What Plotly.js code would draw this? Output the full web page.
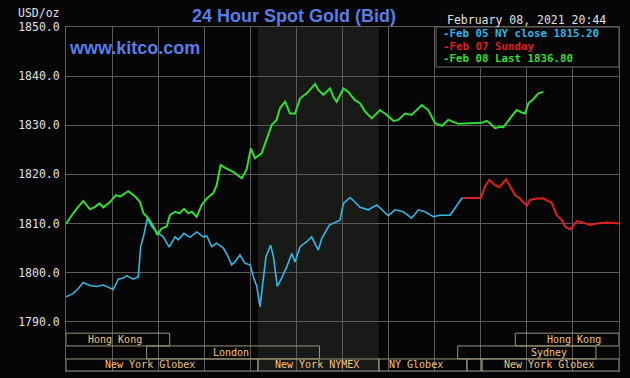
<!DOCTYPE html>
<html>
<head>
<meta charset="utf-8">
<script src="https://cdn.plot.ly/plotly-3.0.1.min.js"></script>
<style>html,body{margin:0;padding:0;background:#050505;}#chart{width:630px;height:378px;}</style>
</head>
<body>
<div id="chart"></div>
<script>
// Hours of the trading day (0-24) and prices USD/oz
const feb05Hours = [0,0.32,0.53,0.75,1.04,1.33,1.62,2.05,2.27,2.49,2.63,2.92,3.14,3.24,3.36,3.53,3.72,3.94,4.22,4.48,4.73,4.87,5.12,5.38,5.67,5.96,6.11,6.32,6.54,6.83,6.97,7.19,7.33,7.55,7.77,7.99,8.13,8.28,8.42,8.56,8.68,8.88,9.0,9.17,9.36,9.58,9.8,9.94,10.16,10.45,10.66,10.95,11.1,11.43,11.75,11.89,12.04,12.33,12.54,12.76,13.12,13.49,13.99,14.28,14.64,15.0,15.29,15.58,15.94,16.23,16.67,16.88,17.17,17.25];
const feb05Price = [1795.1,1795.8,1796.8,1798.0,1797.4,1797.2,1797.5,1796.6,1798.7,1798.9,1799.4,1798.7,1799.2,1805.3,1807.3,1811.1,1809.4,1808.3,1807.3,1805.2,1807.3,1806.7,1808.0,1807.2,1808.3,1807.3,1807.5,1805.3,1806.0,1805.0,1803.9,1801.6,1802.2,1803.6,1801.9,1801.6,1799.2,1797.2,1793.1,1799.2,1803.3,1805.6,1803.3,1797.2,1798.9,1801.2,1803.9,1802.2,1805.3,1806.3,1807.3,1804.6,1807.0,1809.7,1810.4,1810.7,1814.1,1815.3,1814.4,1813.3,1812.8,1813.8,1811.6,1812.8,1812.4,1811.1,1812.8,1812.4,1811.4,1811.7,1811.7,1813.1,1815.1,1815.2];

const feb07Hours = [17.25,18.0,18.19,18.37,18.62,18.81,19.1,19.27,19.49,19.7,20.0,20.14,20.43,20.72,21.08,21.3,21.51,21.66,21.88,22.17,22.45,22.74,23.03,23.47,24.0];
const feb07Price = [1815.2,1815.2,1817.6,1818.9,1817.8,1817.4,1819.0,1817.6,1815.8,1815.1,1813.6,1814.8,1815.1,1815.1,1814.2,1811.7,1810.7,1809.4,1808.8,1810.5,1810.2,1809.7,1810.0,1810.2,1810.0];

const feb08Hours = [0,0.25,0.53,0.75,1.04,1.26,1.45,1.62,1.91,2.17,2.34,2.7,3.0,3.21,3.36,3.57,3.79,3.96,4.15,4.37,4.51,4.73,4.92,5.12,5.31,5.46,5.67,5.89,6.11,6.39,6.54,6.71,6.97,7.26,7.63,7.84,8.02,8.2,8.49,8.71,8.93,9.14,9.29,9.51,9.72,9.94,10.16,10.45,10.81,10.95,11.17,11.46,11.6,11.75,12.04,12.25,12.54,12.76,12.98,13.27,13.63,13.92,14.21,14.42,14.71,15.0,15.44,15.72,16.02,16.31,16.59,16.81,17.03,18.04,18.26,18.4,18.62,18.84,18.98,19.27,19.56,19.78,19.92,20.07,20.28,20.5,20.72];
const feb08Price = [1809.9,1811.7,1813.4,1814.6,1812.9,1813.4,1814.1,1813.3,1814.4,1815.8,1815.5,1816.6,1815.5,1814.4,1812.1,1811.1,1809.4,1807.7,1809.0,1809.4,1811.7,1812.4,1812.1,1813.0,1812.1,1812.4,1811.4,1813.8,1815.1,1816.2,1817.8,1821.9,1821.2,1820.5,1819.2,1821.0,1825.3,1823.3,1824.3,1827.0,1830.1,1831.1,1833.5,1834.8,1832.4,1832.4,1835.5,1836.5,1838.4,1837.2,1836.2,1837.5,1835.8,1834.8,1837.5,1836.8,1835.1,1834.5,1832.8,1831.4,1833.1,1832.1,1830.9,1831.1,1832.4,1832.1,1834.1,1833.1,1830.4,1829.9,1831.1,1830.7,1830.3,1830.5,1830.9,1830.4,1829.4,1829.7,1829.6,1831.4,1833.1,1832.6,1832.4,1834.5,1835.3,1836.5,1836.8];

const seriesNames = ["Feb 05 NY close 1815.20", "Feb 07 Sunday", "Feb 08 Last 1836.80"];
const seriesColors = ["#35b6e6", "#e01e1e", "#33dd33"];

const yTickVals = [1780,1790,1800,1810,1820,1830,1840,1850];
const yTickText = ["1780.0","1790.0","1800.0","1810.0","1820.0","1830.0","1840.0","1850.0"];

// Trading sessions: [label, startHour, endHour, row(0=top)]
const sessionLabels = ["Hong Kong","London","New York Globex","New York NYMEX","NY Globex","","Sydney","Hong Kong","New York Globex"];
const sessionStart  = [0, 3.5, 0, 8.33, 13.58, 17.4, 17.0, 19.5, 18.05];
const sessionEnd    = [4.5, 11.0, 8.33, 13.58, 17.4, 18.05, 23.0, 24, 24];
const sessionRow    = [0, 1, 2, 2, 2, 2, 1, 0, 2];
const sessionTextX  = [2.13, 7.16, 3.65, 10.9, 15.19, 17.7, 20.96, 22.05, 20.96];
const nymexStart = 8.33, nymexEnd = 13.58;

const rowTop = [1787.7, 1785.1, 1782.45];
const rowBot = [1785.1, 1782.45, 1780.0];

const mono = "DejaVu Sans Mono, Liberation Mono, monospace";
const sans = "Liberation Sans, Arial, sans-serif";
const tan = "#f2c47c";
const boxLine = "#9c9676";

const traces = [
  {x: feb05Hours, y: feb05Price, mode: "lines", line: {color: seriesColors[0], width: 1.6}, name: seriesNames[0], hoverinfo: "skip"},
  {x: feb07Hours, y: feb07Price, mode: "lines", line: {color: seriesColors[1], width: 2}, name: seriesNames[1], hoverinfo: "skip"},
  {x: feb08Hours, y: feb08Price, mode: "lines", line: {color: seriesColors[2], width: 2}, name: seriesNames[2], hoverinfo: "skip"}
];

const shapes = [
  {type: "rect", xref: "x", yref: "paper", x0: nymexStart, x1: nymexEnd, y0: 0, y1: 1, fillcolor: "#181a18", line: {width: 0}, layer: "below"}
];
const annotations = [];
for (let i = 0; i < sessionLabels.length; i++) {
  const r = sessionRow[i];
  shapes.push({type: "rect", xref: "x", yref: "y", x0: sessionStart[i], x1: sessionEnd[i], y0: rowBot[r], y1: rowTop[r],
    fillcolor: "rgba(0,0,0,0)", line: {color: boxLine, width: 1}, layer: "above"});
  if (sessionLabels[i]) {
    annotations.push({xref: "x", yref: "y", x: sessionTextX[i], y: (rowTop[r] + rowBot[r]) / 2, text: sessionLabels[i],
      showarrow: false, font: {family: mono, size: 10, color: tan}, xanchor: "center", yanchor: "middle", borderpad: 0});
  }
}
// legend box
shapes.push({type: "rect", xref: "x", yref: "y", x0: 16.06, x1: 24, y0: 1841.86, y1: 1850, fillcolor: "#050505", line: {color: "#6a6a6a", width: 1}, layer: "above"});
const legendY = [1848.68, 1846.1, 1843.51];
for (let i = 0; i < 3; i++) {
  annotations.push({xref: "x", yref: "y", x: 16.3, y: legendY[i], text: "<b>-" + seriesNames[i] + "</b>", showarrow: false,
    font: {family: mono, size: 10.8, color: seriesColors[i]}, xanchor: "left", yanchor: "middle", borderpad: 0});
}
annotations.push({xref: "x", yref: "y", x: 0.03, y: 1845.7, text: "<b>www.kitco.com</b>", showarrow: false,
  font: {family: sans, size: 18, color: "#5b7de8"}, xanchor: "left", yanchor: "middle"});
annotations.push({xref: "paper", yref: "paper", x: -0.0072, y: 1.0407, text: "USD/oz", showarrow: false,
  font: {family: mono, size: 11.5, color: "#e0e0e0"}, xanchor: "right", yanchor: "middle"});
annotations.push({xref: "paper", yref: "paper", x: 0.980, y: 1.0203, text: "February 08, 2021 20:44", showarrow: false,
  font: {family: mono, size: 11.5, color: "#e0e0e0"}, xanchor: "right", yanchor: "middle"});

const layout = {
  width: 630, height: 378,
  margin: {l: 66, r: 11, t: 27, b: 7, pad: 0},
  paper_bgcolor: "#050505", plot_bgcolor: "#050505",
  showlegend: false,
  title: {text: "<b>24 Hour Spot Gold (Bid)</b>", font: {family: sans, size: 18, color: "#5b7de8"},
    xref: "container", yref: "container", x: 294 / 630, y: 1 - 16 / 378, xanchor: "center", yanchor: "middle"},
  xaxis: {range: [0, 24], dtick: 2, tick0: 0, showticklabels: false, showgrid: true, gridcolor: "#5a5a5a", gridwidth: 1,
    zeroline: false, showline: true, mirror: true, linecolor: "#5a5a5a", linewidth: 1, ticks: "", fixedrange: true},
  yaxis: {range: [1780, 1850], tickvals: yTickVals, ticktext: yTickText, showgrid: true, gridcolor: "#5a5a5a", gridwidth: 1,
    zeroline: false, showline: true, mirror: true, linecolor: "#5a5a5a", linewidth: 1, ticks: "outside", ticklen: 3, tickcolor: "#050505",
    tickfont: {family: mono, size: 11.5, color: "#e0e0e0"}, fixedrange: true},
  shapes: shapes,
  annotations: annotations
};

Plotly.newPlot("chart", traces, layout, {staticPlot: true, displayModeBar: false});
</script>
</body>
</html>
